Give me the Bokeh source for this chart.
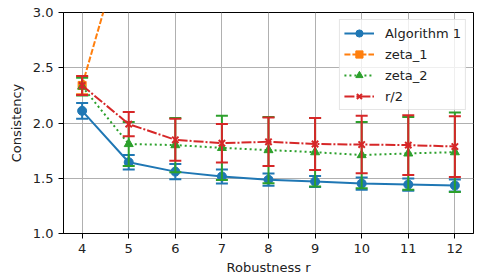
from bokeh.plotting import figure
from bokeh.models import FixedTicker, PrintfTickFormatter, Range1d, Legend, LegendItem
from bokeh.embed import file_html
from bokeh.resources import INLINE

r_vals = [4, 5, 6, 7, 8, 9, 10, 11, 12]
alg1 = [2.11, 1.645, 1.56, 1.516, 1.487, 1.47, 1.452, 1.443, 1.434]
alg1_err = [0.072, 0.065, 0.068, 0.063, 0.055, 0.05, 0.055, 0.055, 0.055]
zeta1 = [2.34, 3.8, 5.3, 6.8, 8.3, 9.8, 11.3, 12.8, 14.3]
zeta1_err = [0.08, 0.1, 0.1, 0.1, 0.1, 0.1, 0.1, 0.1, 0.1]
zeta2 = [2.33, 1.81, 1.80, 1.775, 1.755, 1.736, 1.71, 1.725, 1.736]
zeta2_err = [0.08, 0.2, 0.245, 0.29, 0.30, 0.31, 0.30, 0.33, 0.36]
r_half = [2.34, 1.99, 1.848, 1.817, 1.83, 1.81, 1.805, 1.80, 1.787]
r_half_err = [0.086, 0.11, 0.19, 0.175, 0.22, 0.235, 0.26, 0.27, 0.275]

x_ticks = [4, 5, 6, 7, 8, 9, 10, 11, 12]
y_ticks = [1.0, 1.5, 2.0, 2.5, 3.0]

FONT = "DejaVu Sans"

p = figure(width=483, height=278, output_backend="svg", toolbar_location=None,
           x_range=Range1d(3.6, 12.4), y_range=Range1d(1.0, 3.0),
           min_border_left=63, min_border_top=12, min_border_right=10, min_border_bottom=45)

p.outline_line_color = "black"
p.outline_line_width = 1
for ax in (p.xaxis[0], p.yaxis[0]):
    ax.major_label_text_font = FONT
    ax.major_label_text_font_size = "13px"
    ax.major_label_text_color = "#222222"
    ax.axis_label_text_font = FONT
    ax.axis_label_text_font_size = "13px"
    ax.axis_label_text_font_style = "normal"
    ax.axis_label_text_color = "#222222"
    ax.minor_tick_line_color = None
    ax.major_tick_out = 5
    ax.major_tick_in = 0
    ax.axis_line_color = "black"
    ax.major_label_standoff = 5
p.xaxis.axis_label = "Robustness r"
p.yaxis.axis_label = "Consistency"
p.xaxis.ticker = FixedTicker(ticks=x_ticks)
p.yaxis.ticker = FixedTicker(ticks=y_ticks)
p.yaxis.formatter = PrintfTickFormatter(format="%.1f")
p.xaxis.axis_label_standoff = 4
p.yaxis.axis_label_standoff = 6
p.grid.grid_line_color = "#b0b0b0"
p.grid.grid_line_width = 1

series = [
    ("Algorithm 1", alg1, alg1_err, "#1f77b4", "solid", "circle", 9),
    ("zeta_1", zeta1, zeta1_err, "#ff7f0e", "6 2", "square", 8),
    ("zeta_2", zeta2, zeta2_err, "#2ca02c", "2 3", "triangle", 9),
    ("r/2", r_half, r_half_err, "#d62728", "10 2 2 2", "x", 9),
]

items = []
for name, ys, errs, color, dash, marker, size in series:
    lo = [y - e for y, e in zip(ys, errs)]
    hi = [y + e for y, e in zip(ys, errs)]
    p.segment(x0=r_vals, y0=lo, x1=r_vals, y1=hi, line_color=color, line_width=2)
    p.dash(x=r_vals, y=lo, size=12, line_color=color, line_width=2)
    p.dash(x=r_vals, y=hi, size=12, line_color=color, line_width=2)
    ln = p.line(r_vals, ys, line_color=color, line_width=2, line_dash=dash)
    sc = p.scatter(r_vals, ys, marker=marker, size=size, fill_color=color,
                   line_color=color, line_width=2 if marker == "x" else 1)
    items.append(LegendItem(label=name, renderers=[ln, sc]))

legend = Legend(items=items, location="top_right")
legend.label_text_font = FONT
legend.label_text_font_size = "13px"
legend.label_text_color = "#222222"
legend.border_line_color = "#cccccc"
legend.border_line_width = 1
legend.background_fill_alpha = 0.8
legend.margin = 7
legend.padding = 4
legend.spacing = 3
legend.glyph_width = 30
legend.glyph_height = 18
legend.label_height = 18
legend.label_standoff = 11
p.add_layout(legend)

open("out.html", "w").write(file_html(p, INLINE))
